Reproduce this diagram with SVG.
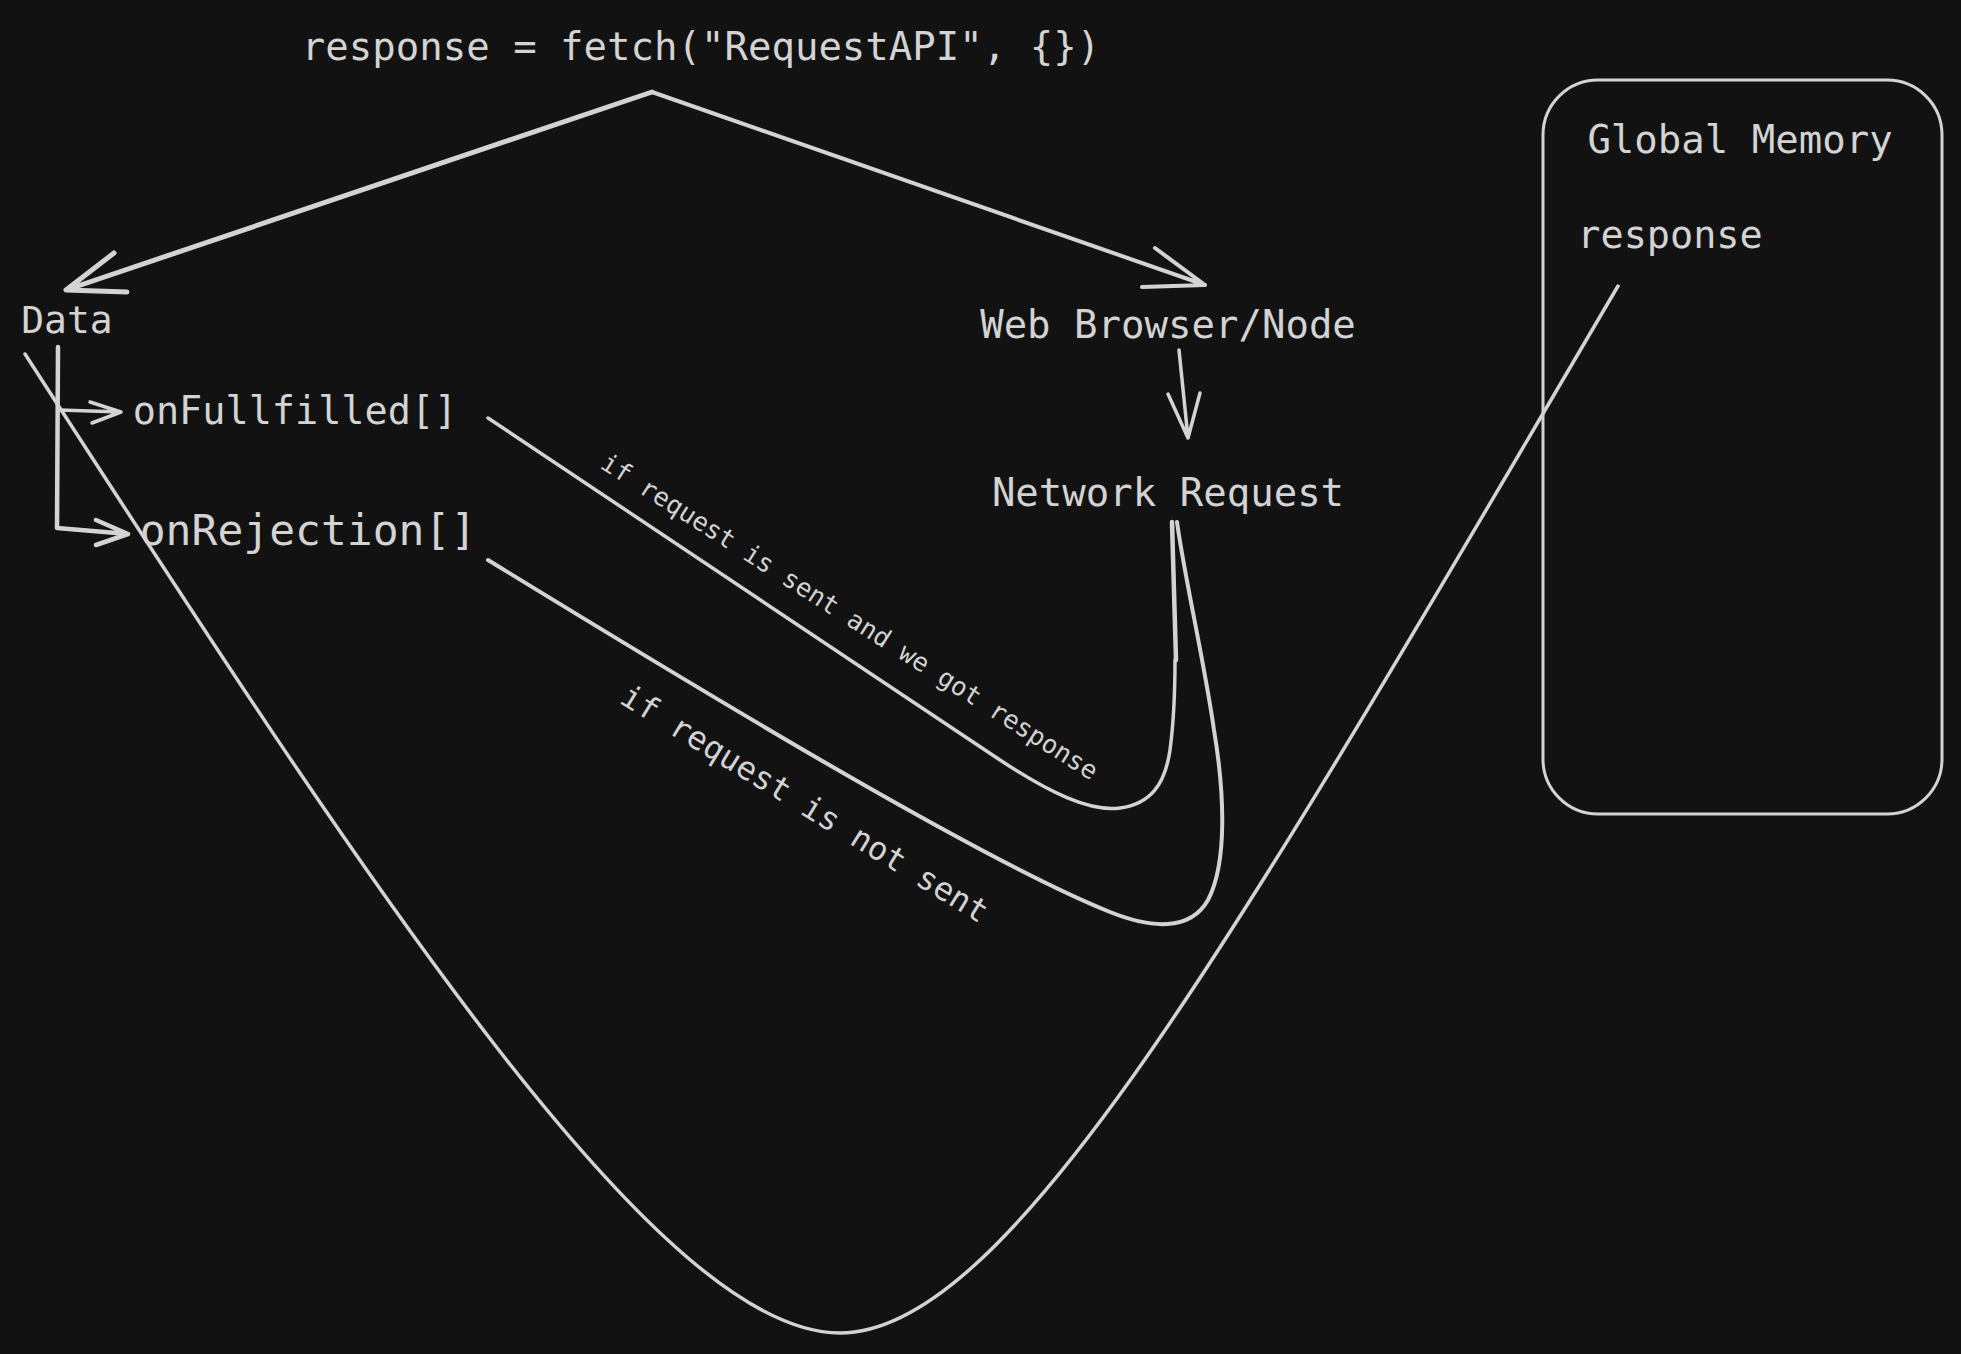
<svg xmlns="http://www.w3.org/2000/svg" width="1961" height="1354" viewBox="0 0 1961 1354">
<style>
.t{font-family:"DejaVu Sans Mono","Liberation Mono",monospace;fill:#d3d3d3;text-anchor:middle}
.c{fill:none;stroke:#d3d3d3;stroke-linecap:round;stroke-linejoin:round}
</style>
<rect x="0" y="0" width="1961" height="1354" fill="#121212"/>
<g id="title"><text class="t" x="701" y="60" font-size="39">response = fetch("RequestAPI", {})</text></g>
<g id="data"><text class="t" x="67" y="333" font-size="38">Data</text></g>
<g id="onFullfilled"><text class="t" x="295" y="424" font-size="38.5">onFullfilled[]</text></g>
<g id="onRejection"><text class="t" x="308" y="545" font-size="43">onRejection[]</text></g>
<g id="webBrowser"><text class="t" x="1168" y="338" font-size="39">Web Browser/Node</text></g>
<g id="networkRequest"><text class="t" x="1168" y="506" font-size="39">Network Request</text></g>
<g id="globalMemory">
<rect class="c" x="1543" y="80" width="399" height="734" rx="55" stroke-width="3"/>
<text class="t" x="1740" y="153" font-size="39">Global Memory</text>
<text class="t" x="1670" y="248" font-size="38.5">response</text>
</g>
<g id="labelResponse"><text class="t" font-size="25.5" transform="translate(845,624) rotate(32.5)">if request is sent and we got response</text></g>
<g id="labelNotSent"><text class="t" font-size="32" transform="translate(799,813) rotate(31.5)">if request is not sent</text></g>
<g id="connectors">
<path class="c" stroke-width="5" d="M652,92 L66,290 M114,253 L66,290 L127,292"/>
<path class="c" stroke-width="4" d="M652,92 L1205,285 M1155,248 L1205,285 L1142,287"/>
<path class="c" stroke-width="3.5" d="M1179,350 L1188,438 M1168,394 L1188,438 L1200,393"/>
<path class="c" stroke-width="4.5" d="M58,347 L57,528 L128,534 M96,520 L128,534 L96,545"/>
<path class="c" stroke-width="3.5" d="M59,410 L121,412 M90,402 L121,412 L92,423"/>
<path class="c" stroke-width="3.5" d="M488,418 L1000,760 C1050,793 1090,812 1120,808 C1150,804 1165,785 1170,750 C1174,720 1175,690 1175,660"/>
<path class="c" stroke-width="4.5" d="M1172,522 L1176,660"/>
<path class="c" stroke-width="4" d="M488,560 C700,690 980,860 1110,912 C1150,928 1190,932 1208,900 C1228,862 1224,790 1214,730 C1204,660 1185,580 1177,522"/>
<path class="c" stroke-width="3.5" d="M25,354 C375,896 660,1333 840,1333 C1010,1333 1238,932 1618,286"/>
</g>
</svg>
